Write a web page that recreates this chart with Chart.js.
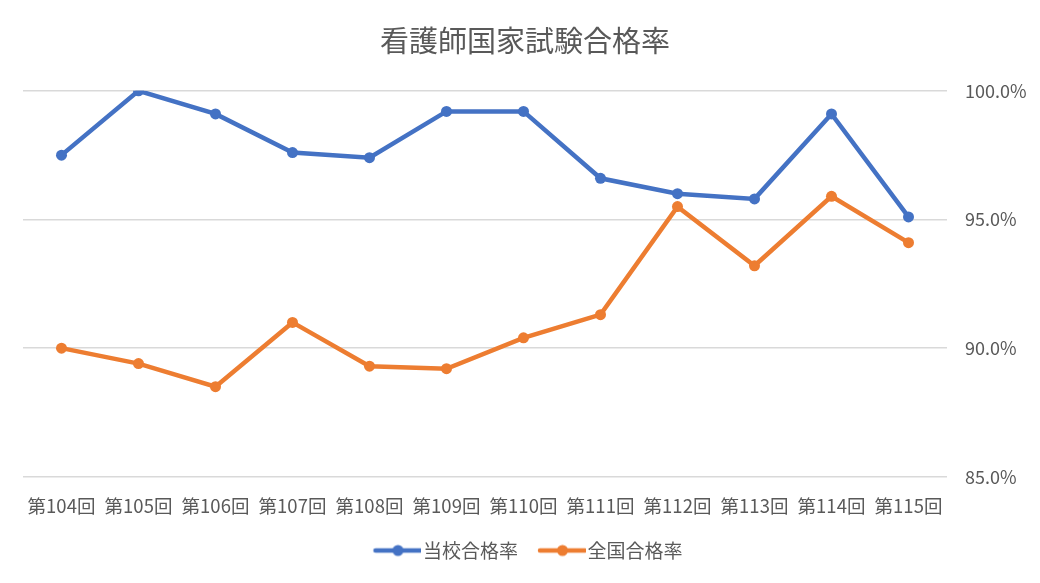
<!DOCTYPE html>
<html>
<head>
<meta charset="utf-8">
<script src="https://cdn.jsdelivr.net/npm/chart.js@4.4.0/dist/chart.umd.min.js"></script>
<style>
    html, body { margin: 0; padding: 0; background: #fff; }
    #wrap { width: 1040px; height: 583px; }
</style>
</head>
<body>
<div id="wrap"><canvas id="passChart"></canvas></div>
<script>
const labels = ['第104回', '第105回', '第106回', '第107回', '第108回', '第109回',
                '第110回', '第111回', '第112回', '第113回', '第114回', '第115回'];
const schoolRate = [97.5, 100.0, 99.1, 97.6, 97.4, 99.2, 99.2, 96.6, 96.0, 95.8, 99.1, 95.1];
const nationalRate = [90.0, 89.4, 88.5, 91.0, 89.3, 89.2, 90.4, 91.3, 95.5, 93.2, 95.9, 94.1];
const yTicks = [85, 90, 95, 100];

const FONT = '"Noto Sans CJK JP", "Noto Sans", sans-serif';
const TEXT = '#595959';

// legend marker: short line with a dot, like the spreadsheet legend
// (blank strip on the left gives the gap between legend items)
function legendMarker(color) {
    const c = document.createElement('canvas');
    c.width = 62; c.height = 14;
    const g = c.getContext('2d');
    g.strokeStyle = color;
    g.lineWidth = 4.5;
    g.lineCap = 'round';
    g.beginPath();
    g.moveTo(16, 7); g.lineTo(61, 7);
    g.stroke();
    g.fillStyle = color;
    g.beginPath();
    g.arc(38.5, 7, 5.5, 0, Math.PI * 2);
    g.fill();
    return c;
}

const ctx = document.getElementById('passChart').getContext('2d');
new Chart(ctx, {
    type: 'line',
    data: {
        labels: labels,
        datasets: [
            {
                label: '当校合格率',
                data: schoolRate,
                borderColor: '#4472C4',
                backgroundColor: '#4472C4',
                borderWidth: 4.5,
                pointRadius: 5.5,
                pointBorderWidth: 0,
                pointHoverRadius: 5.5,
                tension: 0
            },
            {
                label: '全国合格率',
                data: nationalRate,
                borderColor: '#ED7D31',
                backgroundColor: '#ED7D31',
                borderWidth: 4.5,
                pointRadius: 5.5,
                pointBorderWidth: 0,
                pointHoverRadius: 5.5,
                tension: 0
            }
        ]
    },
    options: {
        responsive: true,
        maintainAspectRatio: false,
        animation: false,
        layout: { padding: { left: 23, right: 13, top: 8, bottom: 13 } },
        plugins: {
            title: {
                display: true,
                text: '看護師国家試験合格率',
                color: TEXT,
                font: { family: FONT, size: 29, weight: 'normal' },
                padding: { top: 16, bottom: 32 }
            },
            legend: {
                position: 'bottom',
                labels: {
                    color: TEXT,
                    font: { family: FONT, size: 19 },
                    usePointStyle: true,
                    pointStyleWidth: 46,
                    padding: 14,
                    generateLabels(chart) {
                        return chart.data.datasets.map((ds, i) => ({
                            text: ds.label,
                            fillStyle: ds.borderColor,
                            strokeStyle: ds.borderColor,
                            fontColor: TEXT,
                            pointStyle: legendMarker(ds.borderColor),
                            datasetIndex: i,
                            hidden: !chart.isDatasetVisible(i)
                        }));
                    }
                }
            },
            tooltip: { enabled: false }
        },
        scales: {
            x: {
                offset: true,
                grid: { display: false },
                border: { display: false },
                ticks: {
                    color: TEXT,
                    font: { family: FONT, size: 18.5 },
                    maxRotation: 0,
                    autoSkip: false,
                    padding: 10
                }
            },
            y: {
                position: 'right',
                min: 85,
                max: 100,
                afterBuildTicks(axis) {
                    axis.ticks = yTicks.map(v => ({ value: v }));
                },
                afterFit(axis) {
                    axis.width = 80;
                },
                grid: { color: '#D9D9D9', lineWidth: 1.5, drawTicks: false },
                border: { display: false },
                ticks: {
                    color: TEXT,
                    font: { family: FONT, size: 18 },
                    padding: 18,
                    callback: v => v.toFixed(1) + '%'
                }
            }
        }
    }
});
</script>
</body>
</html>
